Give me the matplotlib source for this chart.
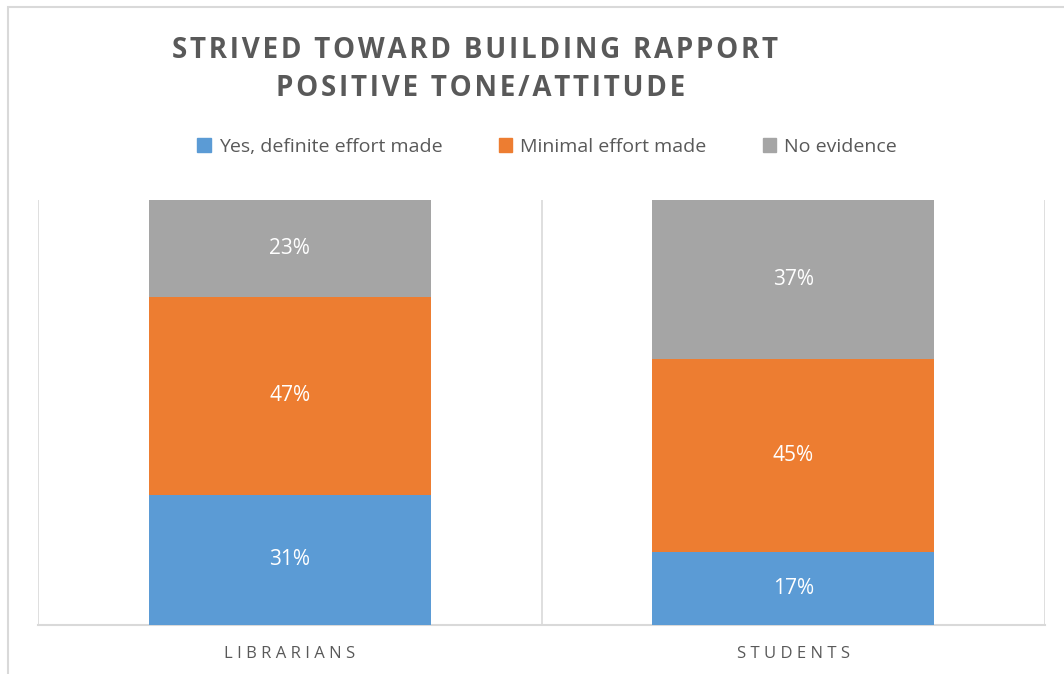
import numpy as np
import matplotlib
matplotlib.use('Agg')
import matplotlib.pyplot as plt
from matplotlib.patches import Patch, Rectangle

plt.rcParams['font.family'] = ['Open Sans', 'DejaVu Sans']

# data (shown percentages, 100% stacked)
groups = ['LIBRARIANS', 'STUDENTS']
series = ['Yes, definite effort made', 'Minimal effort made', 'No evidence']
yes_vals = [31, 17]
minimal_vals = [47, 45]
none_vals = [23, 37]
colors = ['#5B9BD5', '#ED7D31', '#A5A5A5']
title_lines = ['STRIVED TOWARD BUILDING RAPPORT', 'POSITIVE TONE/ATTITUDE']


def spaced(s, sep):
    # fake letter spacing like the Excel chart styles
    return sep.join(s)


vals = np.array([yes_vals, minimal_vals, none_vals], dtype=float)
shares = vals / vals.sum(axis=0)  # 100% stacked

fig = plt.figure(figsize=(10.64, 6.74), dpi=100)
ax = fig.add_axes([38 / 1064, 1 - 625 / 674, (1045 - 38) / 1064, 425 / 674])

# chart border (only left and top visible in the crop)
fig.patches.append(Rectangle((8 / 1064, -0.1), 1.2, 1 - 7 / 674 + 0.1,
                             transform=fig.transFigure, fill=False,
                             edgecolor='#D9D9D9', linewidth=1.5))

x = np.arange(len(groups))
bottom = np.zeros(len(groups))
for i in range(len(series)):
    ax.bar(x, shares[i], 0.56, bottom=bottom, color=colors[i], zorder=3)
    for j in range(len(groups)):
        ax.text(x[j], bottom[j] + shares[i][j] / 2, '%d%%' % vals[i][j],
                ha='center', va='center', color='white', fontsize=15, zorder=4)
    bottom += shares[i]

ax.set_xlim(-0.5, len(groups) - 0.5)
ax.set_ylim(0, 1)
ax.set_yticks([])
ax.set_xticks(x)
ax.set_xticklabels([spaced(g, '\u2009\u200a') for g in groups], color='#595959', fontsize=12)
ax.tick_params(axis='x', length=0, pad=15)

# category separators
for b in np.arange(-0.5, len(groups), 1.0):
    ax.axvline(b, color='#D9D9D9', linewidth=1.2, zorder=1)
for s in ['top', 'right', 'left']:
    ax.spines[s].set_visible(False)
ax.spines['bottom'].set_color('#D9D9D9')
ax.spines['bottom'].set_linewidth(1.5)

fig.text(475 / 1064, 1 - 50 / 674, spaced(title_lines[0], '\u200a'),
         ha='center', va='center', fontsize=20, fontweight='bold', color='#595959')
fig.text(481 / 1064, 1 - 89 / 674, spaced(title_lines[1], '\u200a'),
         ha='center', va='center', fontsize=20, fontweight='bold', color='#595959')

handles = [Patch(color=c) for c in colors]
fig.legend(handles, series, loc='center', bbox_to_anchor=(547 / 1064, 1 - 147 / 674),
           ncol=3, frameon=False, fontsize=14, labelcolor='#595959',
           handlelength=0.7, handleheight=0.7, handletextpad=0.4, columnspacing=2.9)

fig.savefig('out.png', dpi=100)
